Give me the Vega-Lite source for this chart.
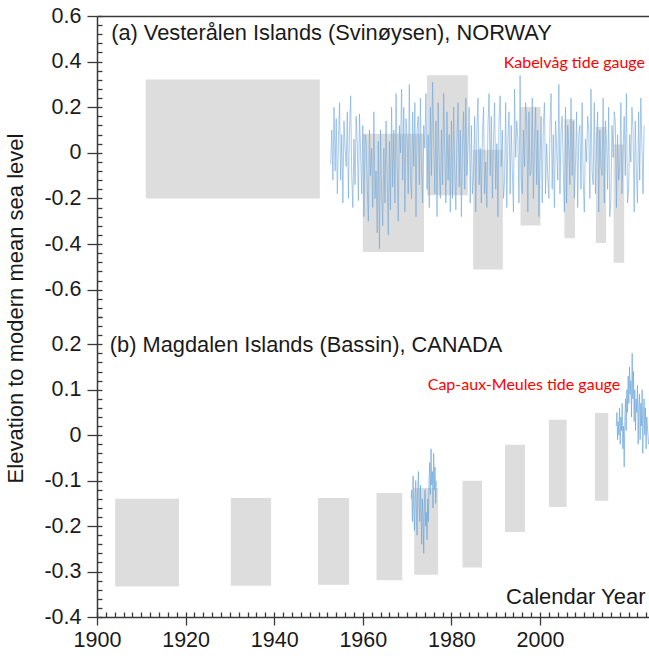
{
  "$schema": "https://vega.github.io/schema/vega-lite/v6.json",
  "padding": {"left": 4, "top": 5, "right": 0, "bottom": 0},
  "spacing": 0,
  "bounds": "flush",
  "config": {
    "view": {"stroke": null},
    "font": "Liberation Sans",
    "axis": {"grid": false, "domainColor": "#3a3a3a", "tickColor": "#3a3a3a", "domainWidth": 1.5, "tickWidth": 1.3, "labelFont": "Liberation Sans", "labelFontSize": 21.5, "labelColor": "#1a1a1a", "labelFlush": false, "labelOverlap": false, "titleFont": "Liberation Sans", "titleFontSize": 22, "titleFontWeight": "normal", "titleColor": "#1a1a1a"}
  },
  "datasets": {
    "nboxes": [
      {"x0": 1911.0, "x1": 1950.3, "y0": -0.200, "y1": 0.322},
      {"x0": 1960.0, "x1": 1973.8, "y0": -0.435, "y1": 0.084},
      {"x0": 1974.5, "x1": 1983.7, "y0": -0.186, "y1": 0.340},
      {"x0": 1984.9, "x1": 1991.6, "y0": -0.512, "y1": 0.014},
      {"x0": 1995.6, "x1": 2000.1, "y0": -0.319, "y1": 0.201},
      {"x0": 2005.5, "x1": 2007.9, "y0": -0.375, "y1": 0.147},
      {"x0": 2012.6, "x1": 2014.9, "y0": -0.396, "y1": 0.113},
      {"x0": 2016.6, "x1": 2019.0, "y0": -0.482, "y1": 0.037}
    ],
    "cboxes": [
      {"x0": 1904.1, "x1": 1918.5, "y0": -0.333, "y1": -0.140},
      {"x0": 1930.2, "x1": 1939.3, "y0": -0.331, "y1": -0.138},
      {"x0": 1949.9, "x1": 1956.9, "y0": -0.329, "y1": -0.138},
      {"x0": 1963.1, "x1": 1968.9, "y0": -0.319, "y1": -0.127},
      {"x0": 1971.6, "x1": 1977.0, "y0": -0.307, "y1": -0.116},
      {"x0": 1982.5, "x1": 1986.9, "y0": -0.291, "y1": -0.100},
      {"x0": 1992.1, "x1": 1996.6, "y0": -0.213, "y1": -0.021},
      {"x0": 2002.0, "x1": 2006.0, "y0": -0.158, "y1": 0.034},
      {"x0": 2012.4, "x1": 2015.4, "y0": -0.144, "y1": 0.049}
    ],
    "ngauge": [
      {"t":1952.75,"v":-0.05},
      {"t":1953,"v":0.10},{"t":1953.25,"v":-0.12},{"t":1953.5,"v":0.20},{"t":1953.75,"v":-0.08},
      {"t":1954,"v":0.15},{"t":1954.25,"v":-0.18},{"t":1954.5,"v":0.05},{"t":1954.75,"v":0.22},
      {"t":1955,"v":-0.12},{"t":1955.25,"v":0.08},{"t":1955.5,"v":-0.22},{"t":1955.75,"v":0.14},
      {"t":1956,"v":0.02},{"t":1956.25,"v":-0.06},{"t":1956.5,"v":0.18},{"t":1956.75,"v":-0.20},
      {"t":1957,"v":0.10},{"t":1957.25,"v":0.25},{"t":1957.5,"v":-0.10},{"t":1957.75,"v":-0.24},
      {"t":1958,"v":0.06},{"t":1958.25,"v":-0.14},{"t":1958.5,"v":0.16},{"t":1958.75,"v":0.04},
      {"t":1959,"v":-0.21},{"t":1959.25,"v":0.17},{"t":1959.5,"v":0.00},{"t":1959.75,"v":-0.18},
      {"t":1960,"v":0.12},{"t":1960.25,"v":-0.28},{"t":1960.5,"v":0.08},{"t":1960.75,"v":0.05},
      {"t":1961,"v":-0.15},{"t":1961.25,"v":-0.30},{"t":1961.5,"v":0.10},{"t":1961.75,"v":-0.10},
      {"t":1962,"v":0.02},{"t":1962.25,"v":-0.24},{"t":1962.5,"v":0.18},{"t":1962.75,"v":-0.20},
      {"t":1963,"v":-0.08},{"t":1963.25,"v":-0.35},{"t":1963.5,"v":0.05},{"t":1963.75,"v":-0.42},
      {"t":1964,"v":0.10},{"t":1964.25,"v":-0.18},{"t":1964.5,"v":-0.32},{"t":1964.75,"v":0.02},
      {"t":1965,"v":-0.22},{"t":1965.25,"v":0.14},{"t":1965.5,"v":-0.12},{"t":1965.75,"v":-0.36},
      {"t":1966,"v":0.05},{"t":1966.25,"v":-0.25},{"t":1966.5,"v":0.20},{"t":1966.75,"v":-0.15},
      {"t":1967,"v":0.10},{"t":1967.25,"v":-0.22},{"t":1967.5,"v":0.26},{"t":1967.75,"v":-0.05},
      {"t":1968,"v":-0.30},{"t":1968.25,"v":0.12},{"t":1968.5,"v":0.00},{"t":1968.75,"v":0.28},
      {"t":1969,"v":-0.12},{"t":1969.25,"v":0.20},{"t":1969.5,"v":-0.26},{"t":1969.75,"v":0.15},
      {"t":1970,"v":0.06},{"t":1970.25,"v":-0.18},{"t":1970.5,"v":0.30},{"t":1970.75,"v":-0.10},
      {"t":1971,"v":-0.20},{"t":1971.25,"v":0.18},{"t":1971.5,"v":-0.06},{"t":1971.75,"v":0.22},
      {"t":1972,"v":-0.28},{"t":1972.25,"v":0.10},{"t":1972.5,"v":0.16},{"t":1972.75,"v":-0.14},
      {"t":1973,"v":0.24},{"t":1973.25,"v":-0.08},{"t":1973.5,"v":-0.22},{"t":1973.75,"v":0.12},
      {"t":1974,"v":0.02},{"t":1974.25,"v":0.26},{"t":1974.5,"v":-0.16},{"t":1974.75,"v":0.08},
      {"t":1975,"v":-0.24},{"t":1975.25,"v":0.20},{"t":1975.5,"v":-0.10},{"t":1975.75,"v":0.31},
      {"t":1976,"v":0.05},{"t":1976.25,"v":-0.18},{"t":1976.5,"v":0.14},{"t":1976.75,"v":-0.28},
      {"t":1977,"v":0.22},{"t":1977.25,"v":-0.05},{"t":1977.5,"v":-0.20},{"t":1977.75,"v":0.10},
      {"t":1978,"v":-0.14},{"t":1978.25,"v":0.26},{"t":1978.5,"v":0.00},{"t":1978.75,"v":-0.22},
      {"t":1979,"v":0.18},{"t":1979.25,"v":-0.12},{"t":1979.5,"v":0.08},{"t":1979.75,"v":-0.26},
      {"t":1980,"v":0.14},{"t":1980.25,"v":-0.20},{"t":1980.5,"v":0.20},{"t":1980.75,"v":-0.08},
      {"t":1981,"v":-0.25},{"t":1981.25,"v":0.06},{"t":1981.5,"v":0.22},{"t":1981.75,"v":-0.15},
      {"t":1982,"v":0.10},{"t":1982.25,"v":-0.28},{"t":1982.5,"v":0.04},{"t":1982.75,"v":0.18},
      {"t":1983,"v":-0.16},{"t":1983.25,"v":0.24},{"t":1983.5,"v":-0.10},{"t":1983.75,"v":0.02},
      {"t":1984,"v":0.20},{"t":1984.25,"v":-0.22},{"t":1984.5,"v":0.12},{"t":1984.75,"v":-0.18},
      {"t":1985,"v":-0.08},{"t":1985.25,"v":0.16},{"t":1985.5,"v":-0.26},{"t":1985.75,"v":0.10},
      {"t":1986,"v":0.24},{"t":1986.25,"v":-0.14},{"t":1986.5,"v":0.02},{"t":1986.75,"v":-0.22},
      {"t":1987,"v":0.08},{"t":1987.25,"v":0.20},{"t":1987.5,"v":-0.18},{"t":1987.75,"v":-0.04},
      {"t":1988,"v":-0.24},{"t":1988.25,"v":0.12},{"t":1988.5,"v":0.26},{"t":1988.75,"v":-0.10},
      {"t":1989,"v":0.16},{"t":1989.25,"v":-0.20},{"t":1989.5,"v":0.06},{"t":1989.75,"v":0.22},
      {"t":1990,"v":-0.16},{"t":1990.25,"v":0.04},{"t":1990.5,"v":-0.28},{"t":1990.75,"v":0.14},
      {"t":1991,"v":0.25},{"t":1991.25,"v":-0.06},{"t":1991.5,"v":0.10},{"t":1991.75,"v":-0.20},
      {"t":1992,"v":-0.12},{"t":1992.25,"v":0.22},{"t":1992.5,"v":-0.24},{"t":1992.75,"v":0.06},
      {"t":1993,"v":0.18},{"t":1993.25,"v":-0.18},{"t":1993.5,"v":0.12},{"t":1993.75,"v":-0.08},
      {"t":1994,"v":-0.26},{"t":1994.25,"v":0.28},{"t":1994.5,"v":-0.02},{"t":1994.75,"v":0.14},
      {"t":1995,"v":0.06},{"t":1995.25,"v":-0.22},{"t":1995.5,"v":0.34},{"t":1995.75,"v":-0.12},
      {"t":1996,"v":-0.18},{"t":1996.25,"v":0.10},{"t":1996.5,"v":-0.06},{"t":1996.75,"v":0.22},
      {"t":1997,"v":0.14},{"t":1997.25,"v":-0.26},{"t":1997.5,"v":0.18},{"t":1997.75,"v":-0.10},
      {"t":1998,"v":-0.08},{"t":1998.25,"v":0.24},{"t":1998.5,"v":-0.20},{"t":1998.75,"v":0.04},
      {"t":1999,"v":0.20},{"t":1999.25,"v":-0.14},{"t":1999.5,"v":0.10},{"t":1999.75,"v":-0.28},
      {"t":2000,"v":-0.04},{"t":2000.25,"v":0.16},{"t":2000.5,"v":-0.22},{"t":2000.75,"v":0.12},
      {"t":2001,"v":0.22},{"t":2001.25,"v":-0.18},{"t":2001.5,"v":0.04},{"t":2001.75,"v":-0.10},
      {"t":2002,"v":-0.20},{"t":2002.25,"v":0.12},{"t":2002.5,"v":0.26},{"t":2002.75,"v":-0.16},
      {"t":2003,"v":0.08},{"t":2003.25,"v":-0.24},{"t":2003.5,"v":0.14},{"t":2003.75,"v":0.02},
      {"t":2004,"v":-0.12},{"t":2004.25,"v":0.30},{"t":2004.5,"v":-0.18},{"t":2004.75,"v":0.10},
      {"t":2005,"v":0.16},{"t":2005.25,"v":-0.08},{"t":2005.5,"v":-0.26},{"t":2005.75,"v":0.20},
      {"t":2006,"v":-0.22},{"t":2006.25,"v":0.12},{"t":2006.5,"v":0.02},{"t":2006.75,"v":-0.14},
      {"t":2007,"v":0.24},{"t":2007.25,"v":-0.10},{"t":2007.5,"v":0.14},{"t":2007.75,"v":-0.20},
      {"t":2008,"v":-0.06},{"t":2008.25,"v":0.18},{"t":2008.5,"v":-0.24},{"t":2008.75,"v":0.08},
      {"t":2009,"v":0.12},{"t":2009.25,"v":-0.16},{"t":2009.5,"v":0.22},{"t":2009.75,"v":-0.12},
      {"t":2010,"v":-0.26},{"t":2010.25,"v":0.06},{"t":2010.5,"v":-0.04},{"t":2010.75,"v":0.16},
      {"t":2011,"v":0.10},{"t":2011.25,"v":-0.20},{"t":2011.5,"v":0.28},{"t":2011.75,"v":-0.08},
      {"t":2012,"v":-0.14},{"t":2012.25,"v":0.22},{"t":2012.5,"v":-0.18},{"t":2012.75,"v":0.04},
      {"t":2013,"v":0.18},{"t":2013.25,"v":-0.26},{"t":2013.5,"v":0.10},{"t":2013.75,"v":-0.06},
      {"t":2014,"v":-0.10},{"t":2014.25,"v":0.24},{"t":2014.5,"v":-0.22},{"t":2014.75,"v":0.14},
      {"t":2015,"v":0.06},{"t":2015.25,"v":-0.16},{"t":2015.5,"v":0.20},{"t":2015.75,"v":-0.28},
      {"t":2016,"v":-0.20},{"t":2016.25,"v":0.12},{"t":2016.5,"v":-0.02},{"t":2016.75,"v":0.18},
      {"t":2017,"v":0.14},{"t":2017.25,"v":-0.24},{"t":2017.5,"v":0.08},{"t":2017.75,"v":-0.12},
      {"t":2018,"v":-0.06},{"t":2018.25,"v":0.22},{"t":2018.5,"v":-0.18},{"t":2018.75,"v":0.02},
      {"t":2019,"v":0.16},{"t":2019.25,"v":-0.10},{"t":2019.5,"v":0.26},{"t":2019.75,"v":-0.22},
      {"t":2020,"v":-0.16},{"t":2020.25,"v":0.08},{"t":2020.5,"v":-0.04},{"t":2020.75,"v":0.20},
      {"t":2021,"v":0.10},{"t":2021.25,"v":-0.26},{"t":2021.5,"v":0.14},{"t":2021.75,"v":-0.08},
      {"t":2022,"v":-0.22},{"t":2022.25,"v":0.18},{"t":2022.5,"v":-0.12},{"t":2022.75,"v":0.24},
      {"t":2023,"v":0.04},{"t":2023.25,"v":-0.18},{"t":2023.5,"v":0.12}
    ],
    "cgauge": [
      {"seg":1,"t":1970.9,"v":-0.14},{"seg":1,"t":1971.05,"v":-0.12},{"seg":1,"t":1971.2,"v":-0.19},{"seg":1,"t":1971.35,"v":-0.09},
      {"seg":1,"t":1971.5,"v":-0.16},{"seg":1,"t":1971.65,"v":-0.21},{"seg":1,"t":1971.8,"v":-0.13},{"seg":1,"t":1971.95,"v":-0.10},
      {"seg":1,"t":1972.1,"v":-0.17},{"seg":1,"t":1972.25,"v":-0.22},{"seg":1,"t":1972.4,"v":-0.12},{"seg":1,"t":1972.55,"v":-0.08},
      {"seg":1,"t":1972.7,"v":-0.15},{"seg":1,"t":1972.85,"v":-0.19},{"seg":1,"t":1973.0,"v":-0.11},{"seg":1,"t":1973.15,"v":-0.16},
      {"seg":1,"t":1973.3,"v":-0.24},{"seg":1,"t":1973.45,"v":-0.14},{"seg":1,"t":1973.6,"v":-0.18},{"seg":1,"t":1973.75,"v":-0.26},
      {"seg":1,"t":1973.9,"v":-0.15},{"seg":1,"t":1974.05,"v":-0.12},{"seg":1,"t":1974.2,"v":-0.20},{"seg":1,"t":1974.35,"v":-0.17},
      {"seg":1,"t":1974.5,"v":-0.23},{"seg":1,"t":1974.65,"v":-0.14},{"seg":1,"t":1974.8,"v":-0.19},{"seg":1,"t":1974.95,"v":-0.10},
      {"seg":1,"t":1975.1,"v":-0.06},{"seg":1,"t":1975.25,"v":-0.13},{"seg":1,"t":1975.4,"v":-0.03},{"seg":1,"t":1975.55,"v":-0.11},
      {"seg":1,"t":1975.7,"v":-0.08},{"seg":1,"t":1975.85,"v":-0.16},{"seg":1,"t":1976.0,"v":-0.04},{"seg":1,"t":1976.15,"v":-0.12},
      {"seg":1,"t":1976.3,"v":-0.07},{"seg":1,"t":1976.45,"v":-0.15},{"seg":1,"t":1976.6,"v":-0.10},
      {"seg":2,"t":2017.2,"v":0.02},{"seg":2,"t":2017.35,"v":0.05},{"seg":2,"t":2017.5,"v":-0.01},{"seg":2,"t":2017.65,"v":0.03},
      {"seg":2,"t":2017.8,"v":0.00},{"seg":2,"t":2017.95,"v":0.06},{"seg":2,"t":2018.1,"v":-0.02},{"seg":2,"t":2018.25,"v":0.04},
      {"seg":2,"t":2018.4,"v":0.01},{"seg":2,"t":2018.55,"v":0.07},{"seg":2,"t":2018.7,"v":-0.03},{"seg":2,"t":2018.85,"v":0.02},
      {"seg":2,"t":2019.0,"v":-0.07},{"seg":2,"t":2019.15,"v":0.03},{"seg":2,"t":2019.3,"v":0.08},{"seg":2,"t":2019.45,"v":0.01},
      {"seg":2,"t":2019.6,"v":0.10},{"seg":2,"t":2019.75,"v":0.05},{"seg":2,"t":2019.9,"v":0.13},{"seg":2,"t":2020.05,"v":0.07},
      {"seg":2,"t":2020.2,"v":0.15},{"seg":2,"t":2020.35,"v":0.09},{"seg":2,"t":2020.5,"v":0.12},{"seg":2,"t":2020.65,"v":0.04},
      {"seg":2,"t":2020.8,"v":0.18},{"seg":2,"t":2020.95,"v":0.08},{"seg":2,"t":2021.1,"v":0.14},{"seg":2,"t":2021.25,"v":0.03},
      {"seg":2,"t":2021.4,"v":0.10},{"seg":2,"t":2021.55,"v":0.01},{"seg":2,"t":2021.7,"v":0.08},{"seg":2,"t":2021.85,"v":0.05},
      {"seg":2,"t":2022.0,"v":0.11},{"seg":2,"t":2022.15,"v":-0.02},{"seg":2,"t":2022.3,"v":0.06},{"seg":2,"t":2022.45,"v":0.09},
      {"seg":2,"t":2022.6,"v":-0.01},{"seg":2,"t":2022.75,"v":0.07},{"seg":2,"t":2022.9,"v":0.02},{"seg":2,"t":2023.05,"v":0.10},
      {"seg":2,"t":2023.2,"v":-0.04},{"seg":2,"t":2023.35,"v":0.05},{"seg":2,"t":2023.5,"v":0.08},{"seg":2,"t":2023.65,"v":0.00},
      {"seg":2,"t":2023.8,"v":0.06},{"seg":2,"t":2023.95,"v":-0.03},{"seg":2,"t":2024.1,"v":0.04},{"seg":2,"t":2024.3,"v":0.01},
      {"seg":2,"t":2024.5,"v":-0.02}
    ]
  },
  "vconcat": [
    {
      "width": 552,
      "height": 301,
      "layer": [
        {
          "data": {"name": "nboxes"},
          "mark": {"type": "rect", "color": "#dddddd"},
          "encoding": {
            "x": {"field": "x0", "type": "quantitative", "scale": {"domain": [1900, 2024.6], "nice": false, "zero": false}, "axis": {"orient": "top", "labels": false, "ticks": false, "title": null, "domain": true}},
            "x2": {"field": "x1"},
            "y": {"field": "y0", "type": "quantitative", "scale": {"domain": [-0.72, 0.6], "nice": false, "zero": false},
              "axis": {"orient": "left", "values": [-0.6, -0.4, -0.2, 0, 0.2, 0.4, 0.6], "tickSize": 10, "labelPadding": 6,
                "labelExpr": "datum.value == 0 ? '0' : replace(format(datum.value, '.1f'), '\u2212', '-')",
                "title": "Elevation to modern mean sea level", "titlePadding": 16, "titleY": 292}},
            "y2": {"field": "y1"}
          }
        },
        {
          "data": {"name": "ngauge"},
          "mark": {"type": "line", "color": "#6ea6da", "strokeWidth": 1, "opacity": 0.6},
          "encoding": {
            "x": {"field": "t", "type": "quantitative", "axis": null},
            "y": {"field": "v", "type": "quantitative",
              "axis": {"orient": "left", "values": [-0.72,-0.68,-0.64,-0.6,-0.56,-0.52,-0.48,-0.44,-0.4,-0.36,-0.32,-0.28,-0.24,-0.2,-0.16,-0.12,-0.08,-0.04,0,0.04,0.08,0.12,0.16,0.2,0.24,0.28,0.32,0.36,0.4,0.44,0.48,0.52,0.56,0.6],
                "tickSize": -5, "labels": false, "domain": false, "title": null}}
          }
        },
        {
          "data": {"values": [{"t": 1903.2, "v": 0.495, "label": "(a) Vesterålen Islands (Svinøysen), NORWAY"}]},
          "mark": {"type": "text", "align": "left", "baseline": "alphabetic", "font": "Liberation Sans", "fontSize": 21.8, "color": "#1a1a1a"},
          "encoding": {
            "x": {"field": "t", "type": "quantitative", "axis": null},
            "y": {"field": "v", "type": "quantitative", "axis": null},
            "text": {"field": "label"}
          }
        },
        {
          "data": {"values": [{"t": 2023.7, "v": 0.37, "label": "Kabelvåg tide gauge"}]},
          "mark": {"type": "text", "align": "right", "baseline": "alphabetic", "font": "Lato", "fontSize": 16, "color": "#ff0000"},
          "encoding": {
            "x": {"field": "t", "type": "quantitative", "axis": null},
            "y": {"field": "v", "type": "quantitative", "axis": null},
            "text": {"field": "label"}
          }
        }
      ],
      "resolve": {"axis": {"x": "independent", "y": "independent"}}
    },
    {
      "width": 552,
      "height": 300,
      "layer": [
        {
          "data": {"name": "cboxes"},
          "mark": {"type": "rect", "color": "#dddddd"},
          "encoding": {
            "x": {"field": "x0", "type": "quantitative", "scale": {"domain": [1900, 2024.6], "nice": false, "zero": false},
              "axis": {"orient": "bottom", "values": [1900, 1920, 1940, 1960, 1980, 2000], "format": "d", "tickSize": 8, "labelPadding": 4,
                "title": "Calendar Year", "titleX": 548, "titleY": -14, "titleAlign": "right", "titleBaseline": "alphabetic"}},
            "x2": {"field": "x1"},
            "y": {"field": "y0", "type": "quantitative", "scale": {"domain": [-0.4, 0.26], "nice": false, "zero": false},
              "axis": {"orient": "left", "values": [-0.4, -0.3, -0.2, -0.1, 0, 0.1, 0.2], "tickSize": 10, "labelPadding": 6,
                "labelExpr": "datum.value == 0 ? '0' : replace(format(datum.value, '.1f'), '\u2212', '-')", "title": null}},
            "y2": {"field": "y1"}
          }
        },
        {
          "data": {"name": "cgauge"},
          "mark": {"type": "line", "color": "#6ea6da", "strokeWidth": 1, "opacity": 0.7},
          "encoding": {
            "x": {"field": "t", "type": "quantitative",
              "axis": {"orient": "bottom", "values": [1900,1902,1904,1906,1908,1910,1912,1914,1916,1918,1920,1922,1924,1926,1928,1930,1932,1934,1936,1938,1940,1942,1944,1946,1948,1950,1952,1954,1956,1958,1960,1962,1964,1966,1968,1970,1972,1974,1976,1978,1980,1982,1984,1986,1988,1990,1992,1994,1996,1998,2000,2002,2004,2006,2008,2010,2012,2014,2016,2018,2020,2022,2024],
                "tickSize": -5, "labels": false, "domain": false, "title": null}},
            "y": {"field": "v", "type": "quantitative",
              "axis": {"orient": "left", "values": [-0.4,-0.38,-0.36,-0.34,-0.32,-0.3,-0.28,-0.26,-0.24,-0.22,-0.2,-0.18,-0.16,-0.14,-0.12,-0.1,-0.08,-0.06,-0.04,-0.02,0,0.02,0.04,0.06,0.08,0.1,0.12,0.14,0.16,0.18,0.2,0.22,0.24,0.26],
                "tickSize": -5, "labels": false, "domain": false, "title": null}},
            "detail": {"field": "seg", "type": "nominal"}
          }
        },
        {
          "data": {"values": [{"t": 1902.9, "v": 0.184, "label": "(b) Magdalen Islands (Bassin), CANADA"}]},
          "mark": {"type": "text", "align": "left", "baseline": "alphabetic", "font": "Liberation Sans", "fontSize": 21.8, "color": "#1a1a1a"},
          "encoding": {
            "x": {"field": "t", "type": "quantitative", "axis": null},
            "y": {"field": "v", "type": "quantitative", "axis": null},
            "text": {"field": "label"}
          }
        },
        {
          "data": {"values": [{"t": 2018.1, "v": 0.100, "label": "Cap-aux-Meules tide gauge"}]},
          "mark": {"type": "text", "align": "right", "baseline": "alphabetic", "font": "Lato", "fontSize": 16, "color": "#ff0000"},
          "encoding": {
            "x": {"field": "t", "type": "quantitative", "axis": null},
            "y": {"field": "v", "type": "quantitative", "axis": null},
            "text": {"field": "label"}
          }
        }
      ],
      "resolve": {"axis": {"x": "independent", "y": "independent"}}
    }
  ]
}
